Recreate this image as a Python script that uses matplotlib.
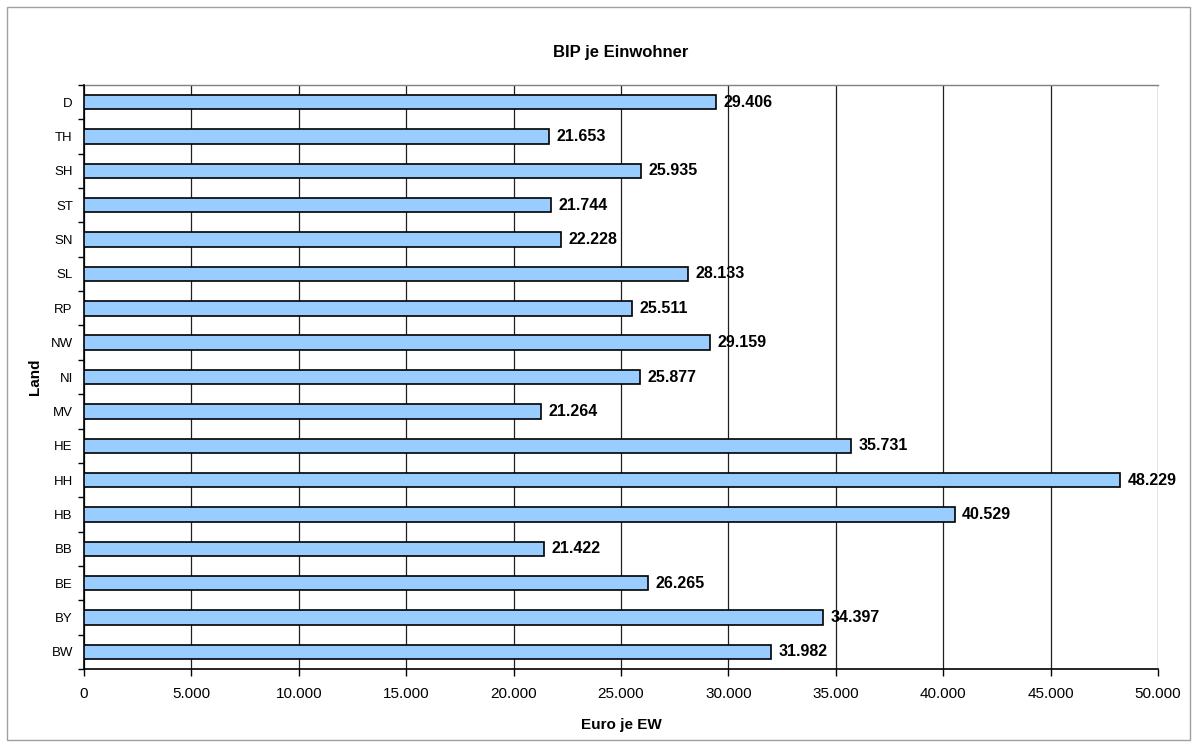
import numpy as np
import matplotlib.pyplot as plt
from matplotlib.patches import Rectangle

plt.rcParams['font.family'] = ['Liberation Sans', 'DejaVu Sans']

# Laender von unten nach oben
laender = ['BW', 'BY', 'BE', 'BB', 'HB', 'HH', 'HE', 'MV', 'NI', 'NW',
           'RP', 'SL', 'SN', 'ST', 'SH', 'TH', 'D']
bip = [31982, 34397, 26265, 21422, 40529, 48229, 35731, 21264, 25877, 29159,
       25511, 28133, 22228, 21744, 25935, 21653, 29406]
xticks = np.arange(0, 50001, 5000)


def de_fmt(v):
    return f"{v:,}".replace(",", ".")


fig = plt.figure(figsize=(11.98, 7.47), dpi=100)
ax = fig.add_axes([0.0701, 0.1044, 0.8965, 0.7818])

y = np.arange(len(laender))
ax.barh(y, bip, height=0.42, color='#99CCFF', edgecolor='black', linewidth=1.2, zorder=3)

for yi, v in zip(y, bip):
    ax.text(v + 350, yi, de_fmt(v), va='center', ha='left',
            fontsize=11.5, fontweight='bold', zorder=4)

ax.set_xlim(0, 50000)
ax.set_ylim(-0.5, len(laender) - 0.5)

ax.set_xticks(xticks)
ax.set_xticklabels([de_fmt(int(t)) for t in xticks], fontsize=11)
ax.xaxis.grid(True, color='#202020', linewidth=0.9, zorder=0)
ax.tick_params(axis='x', direction='out', length=5, width=1, pad=8)

ax.set_yticks(y)
ax.set_yticklabels(laender, fontsize=9.5)
ax.tick_params(axis='y', which='major', length=0, pad=8)
ax.set_yticks(np.arange(-0.5, len(laender)), minor=True)
ax.tick_params(axis='y', which='minor', direction='out', length=4, width=1)

for s in ['top', 'right']:
    ax.spines[s].set_visible(False)
ax.spines['left'].set_linewidth(1.2)
ax.spines['bottom'].set_linewidth(1.2)
ax.plot([0, 50000], [len(laender) - 0.5] * 2, color='#808080', lw=1, clip_on=False, zorder=2)

ax.set_title('BIP je Einwohner', fontsize=12, fontweight='bold', pad=20)
ax.set_xlabel('Euro je EW', fontsize=11, fontweight='bold', labelpad=12)
ax.set_ylabel('Land', fontsize=11, fontweight='bold', labelpad=6)

fig.patches.append(Rectangle((7 / 1198, 7 / 747), 1183 / 1198, 733 / 747,
                             transform=fig.transFigure, fill=False,
                             edgecolor='#A0A0A0', linewidth=1))

fig.savefig('out.png', dpi=100)
